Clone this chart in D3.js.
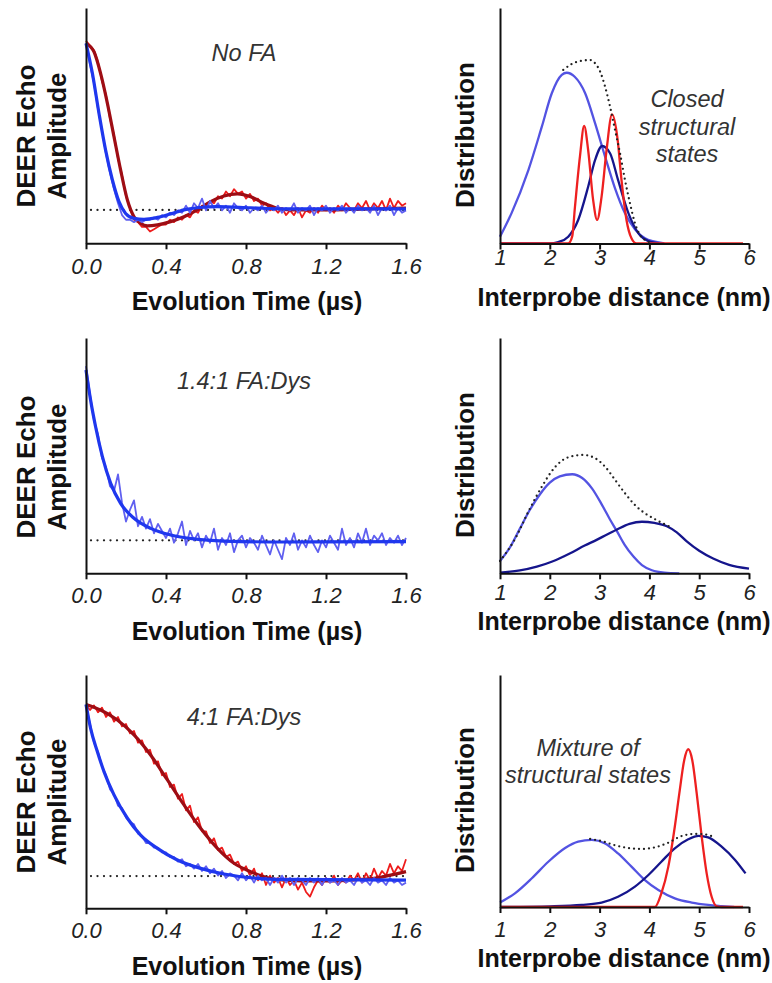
<!DOCTYPE html>
<html>
<head>
<meta charset="utf-8">
<script src="https://cdn.jsdelivr.net/npm/d3@7"></script>
<style>
  body { margin: 0; background: #fff; }
  svg { display: block; }
</style>
</head>
<body>
<script>
// ---------------- data ----------------
// tick labels
const timeTicks = [0, 0.4, 0.8, 1.2, 1.6];
const distTicks = [1, 2, 3, 4, 5, 6];
// sampling grid of the raw DEER traces (us)
const timeGrid = d3.range(0, 1.6001, 0.02);

// raw DEER traces (normalised amplitude), one value per timeGrid point
const redDataTop = [
  0.86, 0.84, 0.82, 0.77, 0.69, 0.63, 0.53, 0.46, 0.36, 0.29,
  0.20, 0.15, 0.10, 0.09, 0.07, 0.07, 0.05, 0.06, 0.07, 0.08,
  0.08, 0.10, 0.09, 0.11, 0.10, 0.12, 0.11, 0.14, 0.13, 0.16,
  0.15, 0.18, 0.17, 0.20, 0.19, 0.22, 0.20, 0.23, 0.21, 0.22,
  0.19, 0.21, 0.18, 0.19, 0.16, 0.17, 0.14, 0.15, 0.13, 0.15,
  0.12, 0.14, 0.12, 0.15, 0.11, 0.14, 0.13, 0.15, 0.13, 0.16,
  0.14, 0.15, 0.13, 0.16, 0.14, 0.17, 0.15, 0.14, 0.17, 0.15,
  0.18, 0.14, 0.17, 0.15, 0.18, 0.14, 0.19, 0.15, 0.18, 0.16,
  0.17];
const blueDataTop = [
  0.85, 0.76, 0.68, 0.57, 0.48, 0.38, 0.30, 0.23, 0.17, 0.12,
  0.10, 0.10, 0.09, 0.10, 0.09, 0.10, 0.10, 0.11, 0.10, 0.12,
  0.11, 0.13, 0.12, 0.14, 0.13, 0.16, 0.13, 0.17, 0.15, 0.19,
  0.14, 0.18, 0.15, 0.17, 0.14, 0.16, 0.13, 0.17, 0.15, 0.14,
  0.16, 0.13, 0.15, 0.14, 0.16, 0.13, 0.15, 0.14, 0.16, 0.13,
  0.15, 0.14, 0.17, 0.13, 0.15, 0.14, 0.16, 0.12, 0.15, 0.14,
  0.16, 0.13, 0.15, 0.14, 0.16, 0.13, 0.15, 0.13, 0.16, 0.14,
  0.15, 0.13, 0.16, 0.12, 0.15, 0.14, 0.16, 0.12, 0.15, 0.13,
  0.14];
const blueDataMid = [
  0.88, 0.76, 0.65, 0.59, 0.49, 0.45, 0.37, 0.35, 0.42, 0.30,
  0.22, 0.27, 0.31, 0.20, 0.24, 0.19, 0.23, 0.17, 0.21, 0.18,
  0.15, 0.19, 0.13, 0.17, 0.22, 0.12, 0.18, 0.14, 0.17, 0.11,
  0.16, 0.13, 0.19, 0.10, 0.15, 0.12, 0.17, 0.09, 0.14, 0.16,
  0.11, 0.15, 0.13, 0.10, 0.16, 0.12, 0.08, 0.14, 0.10, 0.06,
  0.15, 0.12, 0.17, 0.10, 0.14, 0.11, 0.16, 0.12, 0.09, 0.14,
  0.11, 0.16, 0.13, 0.10, 0.19, 0.12, 0.15, 0.11, 0.17, 0.13,
  0.19, 0.12, 0.16, 0.14, 0.17, 0.12, 0.15, 0.13, 0.16, 0.12,
  0.15];
const redDataBot = [
  0.87, 0.85, 0.87, 0.84, 0.86, 0.82, 0.84, 0.80, 0.82, 0.78,
  0.79, 0.75, 0.76, 0.71, 0.72, 0.67, 0.68, 0.62, 0.63, 0.57,
  0.58, 0.52, 0.53, 0.47, 0.49, 0.42, 0.44, 0.37, 0.39, 0.33,
  0.33, 0.28, 0.30, 0.25, 0.26, 0.22, 0.23, 0.19, 0.20, 0.16,
  0.18, 0.14, 0.17, 0.12, 0.15, 0.10, 0.14, 0.11, 0.13, 0.09,
  0.13, 0.10, 0.12, 0.08, 0.11, 0.07, 0.05, 0.09, 0.12, 0.10,
  0.13, 0.11, 0.14, 0.10, 0.12, 0.11, 0.14, 0.12, 0.15, 0.11,
  0.15, 0.12, 0.17, 0.13, 0.16, 0.14, 0.19, 0.15, 0.18, 0.16,
  0.21];
const blueDataBot = [
  0.87, 0.79, 0.71, 0.67, 0.61, 0.57, 0.51, 0.49, 0.44, 0.43,
  0.39, 0.37, 0.36, 0.32, 0.31, 0.28, 0.28, 0.26, 0.26, 0.24,
  0.24, 0.22, 0.22, 0.20, 0.21, 0.18, 0.19, 0.17, 0.19, 0.16,
  0.18, 0.15, 0.17, 0.14, 0.16, 0.13, 0.15, 0.14, 0.12, 0.15,
  0.12, 0.14, 0.11, 0.14, 0.12, 0.13, 0.10, 0.13, 0.11, 0.14,
  0.11, 0.13, 0.10, 0.13, 0.12, 0.10, 0.13, 0.11, 0.13, 0.10,
  0.13, 0.11, 0.12, 0.10, 0.13, 0.11, 0.12, 0.10, 0.13, 0.11,
  0.12, 0.10, 0.13, 0.11, 0.12, 0.10, 0.13, 0.11, 0.12, 0.10,
  0.11];

// fitted DEER curves [time us, amplitude]
const redFitTop = [[0,0.85],[0.04,0.814],[0.073,0.722],[0.107,0.595],[0.14,0.453],[0.173,0.312],
  [0.207,0.184],[0.24,0.113],[0.273,0.085],[0.307,0.074],[0.357,0.078],[0.423,0.092],[0.49,0.113],
  [0.557,0.142],[0.623,0.177],[0.69,0.201],[0.757,0.21],[0.823,0.198],[0.89,0.17],[0.957,0.149],
  [1.023,0.142],[1.157,0.142],[1.323,0.144],[1.6,0.15]];
const blueFitTop = [[0,0.85],[0.032,0.722],[0.065,0.552],[0.098,0.396],[0.132,0.269],[0.165,0.177],
  [0.198,0.127],[0.24,0.106],[0.29,0.102],[0.357,0.11],[0.423,0.125],[0.49,0.142],[0.557,0.151],
  [0.657,0.156],[0.823,0.151],[0.99,0.146],[1.6,0.146]];
const blueFitMid = [[0,0.864],[0.023,0.736],[0.048,0.623],[0.082,0.496],[0.123,0.383],[0.173,0.297],
  [0.24,0.234],[0.323,0.191],[0.423,0.163],[0.54,0.146],[0.69,0.137],[0.99,0.133],[1.6,0.135]];
const redFitBot = [[0,0.874],[0.073,0.85],[0.157,0.807],[0.24,0.743],[0.323,0.657],[0.407,0.55],
  [0.49,0.443],[0.573,0.343],[0.657,0.257],[0.74,0.193],[0.823,0.157],[0.907,0.131],[0.99,0.121],
  [1.157,0.117],[1.323,0.121],[1.457,0.131],[1.6,0.157]];
const blueFitBot = [[0,0.874],[0.023,0.771],[0.057,0.671],[0.09,0.586],[0.14,0.486],[0.207,0.386],
  [0.273,0.314],[0.357,0.257],[0.457,0.207],[0.573,0.171],[0.69,0.147],[0.823,0.131],[0.99,0.124],[1.6,0.121]];

// dotted zero-modulation baselines
const baseTop = 0.142, baseMid = 0.14, baseBot = 0.138;

// distance distributions [nm, P(r)]
const lightTop = [[1.0,0.029],[1.23,0.128],[1.57,0.312],[1.84,0.496],[2.04,0.638],[2.24,0.716],[2.34,0.725],
  [2.5,0.708],[2.71,0.638],[2.91,0.51],[3.11,0.369],[3.31,0.234],[3.51,0.128],[3.71,0.06],[3.91,0.022],[4.11,0.008],[4.3,0]];
const darkTop = [[1.0,0],[2.0,0],[2.17,0.006],[2.37,0.029],[2.57,0.1],[2.77,0.241],[2.91,0.355],[3.05,0.414],
  [3.21,0.383],[3.37,0.27],[3.58,0.128],[3.78,0.043],[3.98,0.01],[4.2,0]];
const redTop = [[1.0,0],[2.37,0],[2.45,0.03],[2.505,0.155],[2.605,0.369],[2.69,0.499],[2.77,0.397],[2.87,0.185],
  [2.95,0.1],[3.04,0.199],[3.14,0.397],[3.25,0.548],[3.36,0.444],[3.44,0.269],[3.54,0.1],[3.64,0.022],[3.74,0],[5.88,0]];
const sumTop = [[2.27,0.737],[2.44,0.762],[2.64,0.776],[2.81,0.779],[2.91,0.765],[3.01,0.73],[3.11,0.666],[3.21,0.581],
  [3.31,0.482],[3.41,0.383],[3.51,0.269],[3.61,0.171],[3.71,0.086],[3.81,0.036],[3.91,0.015],[4.01,0.005]];

const lightMid = [[1.0,0.052],[1.2,0.11],[1.4,0.19],[1.6,0.27],[1.8,0.335],[2.0,0.385],[2.2,0.412],[2.45,0.421],
  [2.65,0.405],[2.85,0.36],[3.05,0.29],[3.2,0.232],[3.35,0.178],[3.5,0.122],[3.68,0.071],[3.85,0.035],[4.05,0.013],[4.3,0.003],[4.6,0]];
const darkMid = [[1.0,0.003],[1.4,0.012],[1.74,0.028],[2.05,0.05],[2.41,0.085],[2.7,0.118],[2.94,0.142],[3.15,0.165],
  [3.34,0.185],[3.6,0.21],[3.85,0.219],[4.1,0.214],[4.35,0.2],[4.55,0.174],[4.75,0.136],[5.0,0.096],[5.28,0.063],[5.6,0.036],[6.0,0.02]];
const sumMid = [[1.0,0.052],[1.3,0.145],[1.57,0.262],[1.84,0.368],[2.1,0.45],[2.37,0.493],[2.67,0.503],[2.91,0.489],
  [3.11,0.453],[3.31,0.397],[3.51,0.34],[3.71,0.29],[3.91,0.255],[4.11,0.23],[4.31,0.208],[4.45,0.195]];

const lightBot = [[1.0,0.019],[1.3,0.059],[1.64,0.124],[1.97,0.195],[2.3,0.253],[2.57,0.282],[2.84,0.289],[3.11,0.274],
  [3.37,0.231],[3.64,0.174],[3.91,0.116],[4.18,0.073],[4.51,0.037],[4.85,0.019],[5.18,0.009],[5.45,0.004],[5.7,0]];
const darkBot = [[1.0,0],[2.0,0.003],[2.64,0.009],[3.04,0.019],[3.37,0.044],[3.71,0.088],[3.98,0.138],[4.24,0.195],
  [4.51,0.253],[4.78,0.292],[4.99,0.307],[5.18,0.3],[5.45,0.26],[5.72,0.203],[5.93,0.145]];
const redBot = [[1.0,0],[4.11,0],[4.24,0.059],[4.38,0.174],[4.51,0.346],[4.61,0.504],[4.70,0.634],[4.78,0.68],
  [4.86,0.634],[4.95,0.49],[5.05,0.303],[5.15,0.145],[5.25,0.044],[5.35,0.003],[5.45,0],[5.88,0]];
const sumBot = [[2.81,0.293],[3.04,0.284],[3.31,0.266],[3.58,0.254],[3.84,0.25],[4.11,0.257],[4.38,0.277],
  [4.65,0.306],[4.91,0.315],[5.11,0.313],[5.28,0.303]];

// ---------------- styles ----------------
const FONT = '"Liberation Sans", Arial, Helvetica, sans-serif';
const colRedData = '#ee1c1c', colRedFit = '#9e0d14';
const colBlueData = '#6060f0', colBlueFit = '#1f37ee';
const colLight = '#5353e2', colDark = '#15158c', colRed = '#ee2020';

const svg = d3.select('body').append('svg')
  .attr('width', 772).attr('height', 983);

// style an axis group: thick black lines, italic tick labels
function styleAxis(a, tickY) {
  a.attr('font-family', FONT).attr('font-size', 22);
  a.select('.domain').attr('stroke', '#111').attr('stroke-width', 2);
  a.selectAll('.tick line').attr('stroke', '#111').attr('stroke-width', 2);
  a.selectAll('.tick text').attr('dy', null).attr('y', tickY)
    .attr('fill', '#222').attr('font-style', 'italic');
}

function dotted(g, line, pts, gap) {
  g.append('path').datum(pts)
    .attr('d', line.curve(d3.curveMonotoneX))
    .attr('fill', 'none').attr('stroke', '#222').attr('stroke-width', 2.3)
    .attr('stroke-linecap', 'round').attr('stroke-dasharray', `0,${gap}`);
}

function yTitle(g, lines, yc) {
  lines.forEach(l => {
    g.append('text')
      .attr('transform', `translate(${l.x},${yc}) rotate(-90)`)
      .attr('text-anchor', 'middle')
      .attr('font-family', FONT).attr('font-size', 26).attr('font-weight', 'bold')
      .attr('fill', '#111').text(l.t);
  });
}

//////////////////// DEER time traces (left column) ////////////////////
function timePanel(p) {
  const g = svg.append('g');
  const x = d3.scaleLinear().domain([0, 1.6]).range([86, 406]);
  const y = d3.scaleLinear().domain([0, 1]).range([p.bot, p.top]);
  const line = d3.line().x(d => x(d[0])).y(d => y(d[1]));

  dotted(g, line, [[0.025, p.base], [1.6, p.base]], 6.5);

  p.series.forEach(s => {
    const pts = s.fit ? s.values : timeGrid.map((t, i) => [t, s.values[i]]);
    g.append('path').datum(pts)
      .attr('d', line.curve(s.fit ? d3.curveMonotoneX : d3.curveLinear))
      .attr('fill', 'none').attr('stroke', s.color)
      .attr('stroke-width', s.fit ? 3.2 : 1.8).attr('stroke-linejoin', 'round');
  });

  g.append('g').attr('transform', `translate(0,${p.bot})`)
    .call(d3.axisBottom(x).tickValues(timeTicks).tickFormat(d3.format('.1f')).tickSize(6).tickSizeOuter(0))
    .call(a => styleAxis(a, p.tickY));
  g.append('g').attr('transform', 'translate(86,0)')
    .call(d3.axisLeft(y).tickValues([]).tickSizeOuter(0))
    .call(a => styleAxis(a, 0));

  g.append('text').attr('x', 247).attr('y', p.titleY)
    .attr('text-anchor', 'middle').attr('font-family', FONT)
    .attr('font-size', 25).attr('font-weight', 'bold').attr('fill', '#111')
    .text('Evolution Time (\u00b5s)');
  yTitle(g, [{ t: 'DEER Echo', x: 35 }, { t: 'Amplitude', x: 66 }], p.yc);

  g.append('text').attr('x', 244).attr('y', p.labelY)
    .attr('text-anchor', 'middle').attr('font-family', FONT)
    .attr('font-size', 23.5).attr('font-style', 'italic').attr('fill', '#333')
    .text(p.label);
}

//////////////////// distance distributions (right column) ////////////////////
function distPanel(p) {
  const g = svg.append('g');
  const x = d3.scaleLinear().domain([1, 6]).range([500, 749]);
  const y = d3.scaleLinear().domain([0, 1]).range([p.bot, p.top]);
  const line = d3.line().x(d => x(d[0])).y(d => y(d[1]));

  p.series.forEach(s => {
    g.append('path').datum(s.values)
      .attr('d', line.curve(d3.curveMonotoneX))
      .attr('fill', 'none').attr('stroke', s.color).attr('stroke-width', 2.3);
  });
  dotted(g, line, p.sum, 5);

  g.append('g').attr('transform', `translate(0,${p.bot})`)
    .call(d3.axisBottom(x).tickValues(distTicks).tickFormat(d3.format('d')).tickSize(6).tickSizeOuter(0))
    .call(a => styleAxis(a, p.tickY));
  g.append('g').attr('transform', 'translate(500,0)')
    .call(d3.axisLeft(y).tickValues([]).tickSizeOuter(0))
    .call(a => styleAxis(a, 0));

  g.append('text').attr('x', 624).attr('y', p.titleY)
    .attr('text-anchor', 'middle').attr('font-family', FONT)
    .attr('font-size', 25).attr('font-weight', 'bold').attr('fill', '#111')
    .text('Interprobe distance (nm)');
  yTitle(g, [{ t: 'Distribution', x: 474 }], p.yc);

  p.notes.forEach(n => {
    g.append('text').attr('x', n.x).attr('y', n.y)
      .attr('text-anchor', 'middle').attr('font-family', FONT)
      .attr('font-size', 23.5).attr('font-style', 'italic').attr('fill', '#333')
      .text(n.t);
  });
}

timePanel({ top: 8, bot: 243.3, tickY: 31, titleY: 310, yc: 136, labelY: 61, label: 'No FA', base: baseTop,
  series: [
    { values: redDataTop, color: colRedData },
    { values: redFitTop, color: colRedFit, fit: true },
    { values: blueDataTop, color: colBlueData },
    { values: blueFitTop, color: colBlueFit, fit: true }] });
timePanel({ top: 338, bot: 573.3, tickY: 30, titleY: 640, yc: 467, labelY: 389, label: '1.4:1 FA:Dys', base: baseMid,
  series: [
    { values: blueDataMid, color: colBlueData },
    { values: blueFitMid, color: colBlueFit, fit: true }] });
timePanel({ top: 675, bot: 908.3, tickY: 30, titleY: 975, yc: 802, labelY: 725, label: '4:1 FA:Dys', base: baseBot,
  series: [
    { values: redDataBot, color: colRedData },
    { values: redFitBot, color: colRedFit, fit: true },
    { values: blueDataBot, color: colBlueData },
    { values: blueFitBot, color: colBlueFit, fit: true }] });

distPanel({ top: 8, bot: 243.5, tickY: 21.5, titleY: 306, yc: 135, sum: sumTop,
  series: [{ values: lightTop, color: colLight }, { values: darkTop, color: colDark }, { values: redTop, color: colRed }],
  notes: [{ t: 'Closed', x: 687, y: 107 }, { t: 'structural', x: 687, y: 135 }, { t: 'states', x: 687, y: 162 }] });
distPanel({ top: 338, bot: 573.3, tickY: 27, titleY: 630, yc: 465, sum: sumMid,
  series: [{ values: lightMid, color: colLight }, { values: darkMid, color: colDark }],
  notes: [] });
distPanel({ top: 675, bot: 907, tickY: 30, titleY: 967, yc: 800, sum: sumBot,
  series: [{ values: lightBot, color: colLight }, { values: darkBot, color: colDark }, { values: redBot, color: colRed }],
  notes: [{ t: 'Mixture of', x: 588, y: 756 }, { t: 'structural states', x: 588, y: 783 }] });
</script>
</body>
</html>
